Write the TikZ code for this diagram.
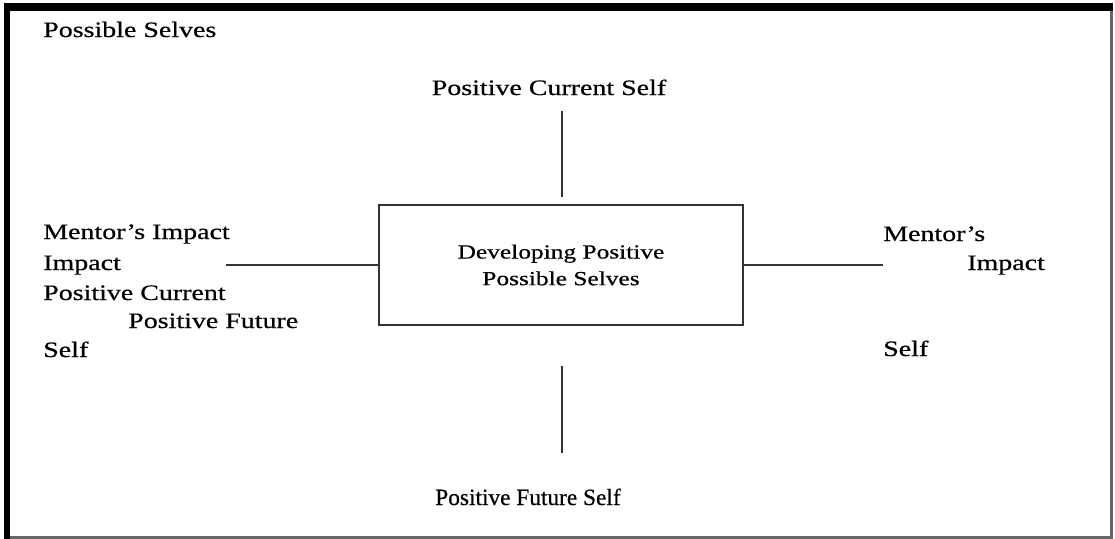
\documentclass[tikz,border=0pt]{standalone}
\usepackage{fontspec}
\setmainfont{Liberation Serif}[FakeBold=0.5]
\usepackage{graphicx}
\newcommand{\wide}[1]{\scalebox{1.27}[1]{#1}}

\begin{document}
\begin{tikzpicture}[
    x=0.75pt,y=-0.75pt,
    lbl/.style={inner sep=0pt,anchor=base west,font=\fontsize{16.5}{20}\selectfont},
    link/.style={draw=black!80,line width=1.1pt},
  ]
  \useasboundingbox (0,0) rectangle (1115,539);
  % frame
  \fill (4,3) rectangle (1113,11);
  \fill (4,3) rectangle (10,539);
  \draw[black!60,line width=2pt] (10,537.5) -- (1111.5,537.5) -- (1111.5,11);

  \node[lbl] (title) at (43,37) {\wide{Possible Selves}};
  \node[lbl,anchor=base] (cur) at (549,95) {\wide{Positive Current Self}};
  \node[lbl,anchor=base,font=\fontsize{17.5}{20}\selectfont] (fut) at (528,505) {Positive Future Self};
  \node[link,minimum width=273pt,minimum height=90pt,align=center,
    font=\fontsize{15}{20}\selectfont] (dev) at (561,265)
    {\wide{Developing Positive}\\\wide{Possible Selves}};

  % left labels
  \node[lbl] (lmentor) at (43,239) {\wide{Mentor’s Impact}};
  \node[lbl] (limpact) at (43,270) {\wide{Impact}};
  \node[lbl] (lcur) at (43,300) {\wide{Positive Current}};
  \node[lbl] (lfut) at (128,328) {\wide{Positive Future}};
  \node[lbl] (lself) at (43,357) {\wide{Self}};
  % right labels
  \node[lbl] (rmentor) at (883,241) {\wide{Mentor’s}};
  \node[lbl] (rimpact) at (967,270) {\wide{Impact}};
  \node[lbl] (rself) at (883,356) {\wide{Self}};

  \coordinate (lend) at (226,265);
  \coordinate (rend) at (883,265);
  \coordinate (ttop) at (562,111);
  \coordinate (tbot) at (562,197);
  \coordinate (btop) at (562,366);
  \coordinate (bbot) at (562,453);
  \path[link] (lend) -- (dev.west);
  \path[link] (dev.east) -- (rend);
  \path[link] (ttop) -- (tbot);
  \path[link] (btop) -- (bbot);
\end{tikzpicture}
\end{document}
